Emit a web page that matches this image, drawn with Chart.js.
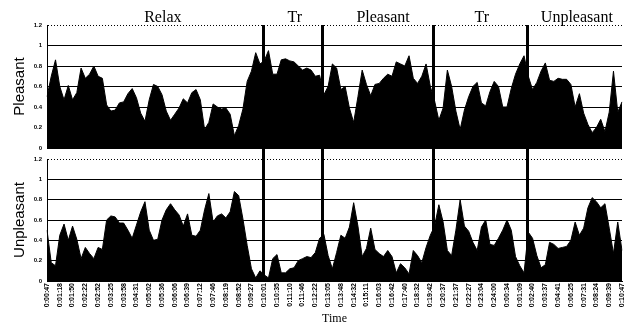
<!DOCTYPE html>
<html>
<head>
<meta charset="utf-8">
<title>Pleasant / Unpleasant over time</title>
<script src="https://cdn.jsdelivr.net/npm/chart.js@4.4.1/dist/chart.umd.min.js"></script>
<style>
  html, body { margin: 0; padding: 0; background: #fff; }
  #wrap { position: relative; width: 633px; height: 325px; }
  .panel { position: absolute; left: 0; width: 633px; }
  #topPanel { top: 0; height: 150px; }
  #bottomPanel { top: 150px; height: 175px; }
</style>
</head>
<body>
<div id="wrap">
  <div class="panel" id="topPanel"><canvas id="pleasantChart"></canvas></div>
  <div class="panel" id="bottomPanel"><canvas id="unpleasantChart"></canvas></div>
</div>
<script>
// time stamps printed under the lower panel (one every 3 samples)
const timeTicks = [
  '0:00:47','0:01:18','0:01:50','0:02:22','0:02:52','0:03:25','0:03:58','0:04:31','0:05:02','0:05:36',
  '0:06:06','0:06:39','0:07:12','0:07:46','0:08:19','0:08:52','0:09:27','0:10:01','0:10:35','0:11:10',
  '0:11:46','0:12:22','0:13:05','0:13:48','0:14:32','0:15:11','0:16:03','0:16:42','0:17:40','0:18:32',
  '0:19:42','0:20:37','0:21:37','0:22:27','0:23:04','0:24:00','0:00:34','0:01:09','0:02:40','0:03:37',
  '0:04:41','0:06:25','0:07:31','0:08:24','0:09:39','0:10:47'
];
const samplesPerTick = 3;

// ratings
const pleasant = [
  0.50,0.70,0.86,0.60,0.47,0.61,0.47,0.54,0.78,0.68,
  0.72,0.80,0.70,0.68,0.42,0.36,0.37,0.44,0.45,0.53,
  0.58,0.49,0.34,0.26,0.47,0.62,0.60,0.52,0.36,0.27,
  0.33,0.39,0.48,0.44,0.54,0.57,0.47,0.18,0.25,0.43,
  0.40,0.38,0.39,0.33,0.12,0.22,0.38,0.65,0.75,0.93,
  0.82,0.85,0.95,0.72,0.72,0.86,0.87,0.85,0.84,0.80,
  0.76,0.78,0.76,0.70,0.71,0.52,0.60,0.82,0.78,0.57,
  0.60,0.39,0.25,0.50,0.76,0.62,0.51,0.62,0.63,0.68,
  0.72,0.70,0.84,0.82,0.80,0.90,0.68,0.63,0.70,0.82,
  0.60,0.46,0.27,0.39,0.76,0.60,0.36,0.18,0.37,0.50,
  0.60,0.64,0.44,0.41,0.55,0.65,0.60,0.40,0.40,0.58,
  0.72,0.82,0.90,0.70,0.57,0.64,0.75,0.83,0.66,0.65,
  0.68,0.67,0.67,0.62,0.40,0.53,0.34,0.23,0.15,0.20,
  0.28,0.16,0.35,0.75,0.35,0.45
];
const unpleasant = [
  0.50,0.18,0.15,0.45,0.56,0.40,0.54,0.41,0.22,0.33,
  0.27,0.22,0.33,0.31,0.60,0.64,0.63,0.57,0.57,0.50,
  0.42,0.55,0.68,0.78,0.50,0.40,0.41,0.60,0.70,0.76,
  0.70,0.65,0.54,0.66,0.45,0.44,0.50,0.70,0.86,0.58,
  0.64,0.66,0.62,0.68,0.88,0.84,0.61,0.35,0.12,0.03,
  0.10,0.06,0.03,0.22,0.26,0.08,0.08,0.12,0.13,0.20,
  0.22,0.24,0.23,0.28,0.42,0.46,0.25,0.12,0.28,0.45,
  0.42,0.53,0.77,0.54,0.24,0.32,0.52,0.31,0.27,0.24,
  0.30,0.24,0.08,0.17,0.13,0.07,0.30,0.25,0.18,0.33,
  0.45,0.54,0.75,0.58,0.30,0.25,0.50,0.80,0.54,0.49,
  0.38,0.30,0.53,0.60,0.36,0.35,0.42,0.50,0.60,0.50,
  0.24,0.15,0.08,0.48,0.42,0.25,0.13,0.16,0.38,0.36,
  0.32,0.33,0.34,0.40,0.58,0.45,0.52,0.72,0.82,0.78,
  0.72,0.76,0.52,0.27,0.58,0.30
];

// experiment phases (positions in sample index)
const phaseNames = ['Relax', 'Tr', 'Pleasant', 'Tr', 'Unpleasant'];
const phaseCenters = [27.2, 58.2, 78.9, 102.1, 124.4];
const phaseBreaks = [50.8, 64.5, 90.7, 112.8];

// one label per sample, blank between the printed stamps
const labels = [];
timeTicks.forEach((t, k) => {
  labels.push(t);
  if (k < timeTicks.length - 1) {
    for (let j = 1; j < samplesPerTick; j++) labels.push('');
  }
});

// thick phase separators, drawn through both panels
const phaseLines = {
  id: 'phaseLines',
  afterDatasetsDraw(chart, args, opts) {
    const {ctx, chartArea, scales: {x}} = chart;
    const y1 = opts.reachTop ? 0 : chartArea.top;
    const y2 = opts.reachBottom ? chart.height : chartArea.bottom;
    ctx.save();
    ctx.strokeStyle = '#000';
    ctx.lineWidth = 3;
    phaseBreaks.forEach(b => {
      const px = Math.round(x.getPixelForValue(b)) + 0.5;
      ctx.beginPath();
      ctx.moveTo(px, y1);
      ctx.lineTo(px, y2);
      ctx.stroke();
    });
    ctx.restore();
  }
};

// phase names above the upper panel
const phaseTitles = {
  id: 'phaseTitles',
  afterDraw(chart) {
    const {ctx, chartArea, scales: {x}} = chart;
    ctx.save();
    ctx.font = '16px "Liberation Serif", serif';
    ctx.fillStyle = '#000';
    ctx.textAlign = 'center';
    ctx.textBaseline = 'alphabetic';
    phaseNames.forEach((name, k) => {
      ctx.fillText(name, x.getPixelForValue(phaseCenters[k]), chartArea.top - 3);
    });
    ctx.restore();
  }
};

function makeChart(canvasId, values, yTitle, isBottom) {
  return new Chart(document.getElementById(canvasId), {
    type: 'line',
    data: {
      labels: labels,
      datasets: [{
        data: values,
        fill: 'origin',
        backgroundColor: '#000',
        borderColor: '#000',
        borderWidth: 1,
        pointRadius: 0,
        tension: 0
      }]
    },
    options: {
      responsive: true,
      maintainAspectRatio: false,
      animation: false,
      layout: { padding: isBottom ? {top: 9, bottom: 0, left: 0, right: 11} : {top: 25, bottom: 2, left: 0, right: 11} },
      plugins: {
        legend: { display: false },
        tooltip: { enabled: false },
        phaseLines: { reachTop: isBottom, reachBottom: !isBottom }
      },
      scales: {
        x: {
          display: isBottom,
          offset: false,
          grid: { display: false, drawTicks: false },
          border: { display: true, color: '#000', width: 1 },
          ticks: {
            autoSkip: false,
            minRotation: 90,
            maxRotation: 90,
            padding: 2,
            color: '#000',
            font: { family: 'Liberation Sans', size: 7, weight: 'bold' }
          },
          title: {
            display: true,
            text: 'Time',
            color: '#000',
            font: { family: 'Liberation Serif', size: 12, lineHeight: 1 },
            padding: { top: 0, bottom: 0 }
          },
          afterFit: s => { if (isBottom) s.height = 44; }
        },
        y: {
          min: 0,
          max: 1.2,
          grid: { color: '#000', lineWidth: 1, drawTicks: false },
          border: {
            display: true, color: '#000', width: 1,
            dash: c => (c.tick && c.tick.value > 1.1) ? [1, 2] : []
          },
          ticks: {
            stepSize: 0.2,
            padding: 5,
            color: '#000',
            font: { family: 'Liberation Sans', size: 6, weight: 'bold' },
            callback: v => String(+v.toFixed(1))
          },
          title: {
            display: true,
            text: yTitle,
            color: '#000',
            font: { family: 'Liberation Sans', size: 15, lineHeight: 1.2 },
            padding: { top: 11, bottom: 0 }
          },
          // fixed axis width; keep tick padding from pushing the plot edges in
          afterFit: s => { s.width = 47; s.paddingTop = 2; s.paddingBottom = 2; }
        }
      }
    },
    plugins: isBottom ? [phaseLines] : [phaseLines, phaseTitles]
  });
}

makeChart('pleasantChart', pleasant, 'Pleasant', false);
makeChart('unpleasantChart', unpleasant, 'Unpleasant', true);
</script>
</body>
</html>
